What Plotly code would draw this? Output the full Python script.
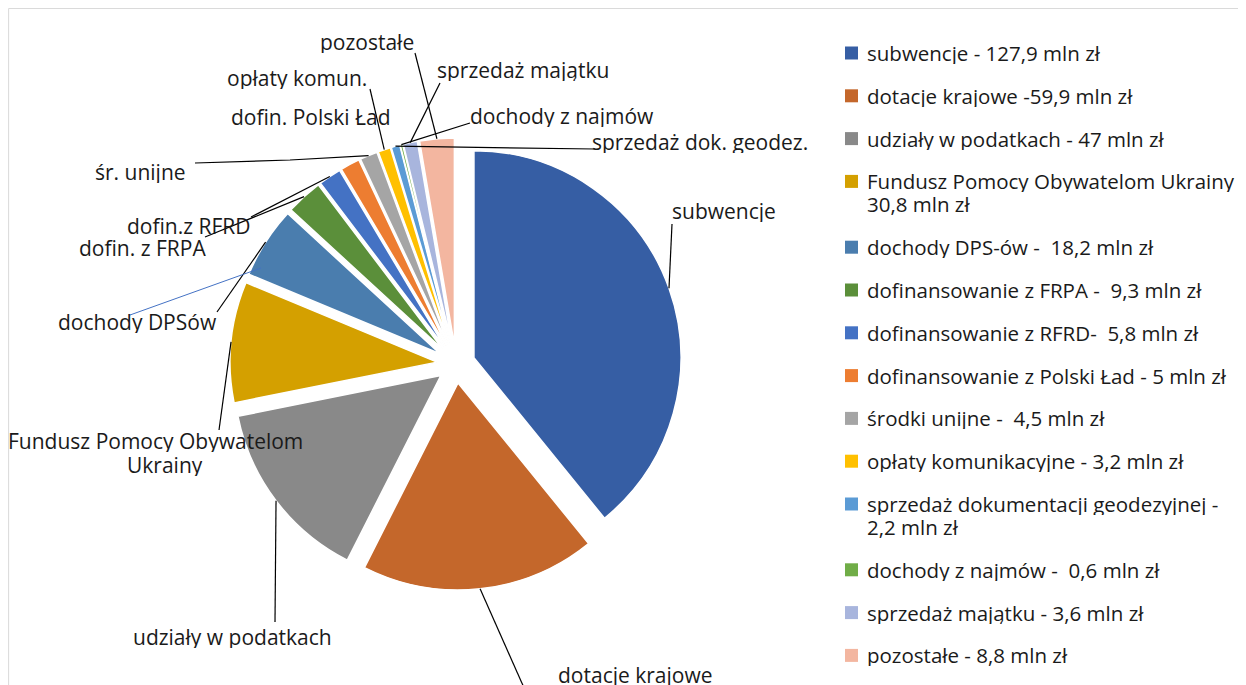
import math
import plotly.graph_objects as go

# page is shown with an 8px body margin; figure fits the remaining viewport
OFF = 8
W, H = 1246 - OFF, 685 - OFF

categories = ["subwencje", "dotacje krajowe", "udziały w podatkach",
              "Fundusz Pomocy Obywatelom Ukrainy", "dochody DPS-ów",
              "dofinansowanie z FRPA", "dofinansowanie z RFRD",
              "dofinansowanie z Polski Ład", "środki unijne",
              "opłaty komunikacyjne", "sprzedaż dokumentacji geodezyjnej",
              "dochody z najmów", "sprzedaż majątku", "pozostałe"]
values = [127.9, 59.9, 47, 30.8, 18.2, 9.3, 5.8, 5, 4.5, 3.2, 2.2, 0.6, 3.6, 8.8]
colors = ["#365EA4", "#C4672B", "#898989", "#D4A000", "#4A7DAE", "#5B8F3A",
          "#4472C4", "#ED7D31", "#A5A5A5", "#FFC000", "#5B9BD5", "#70AD47",
          "#A8B5DD", "#F3B6A0"]
legend_texts = [
    ["subwencje - 127,9 mln zł"],
    ["dotacje krajowe -59,9 mln zł"],
    ["udziały w podatkach - 47 mln zł"],
    ["Fundusz Pomocy Obywatelom Ukrainy", "30,8 mln zł"],
    ["dochody DPS-ów - \u00a018,2 mln zł"],
    ["dofinansowanie z FRPA - \u00a09,3 mln zł"],
    ["dofinansowanie z RFRD- \u00a05,8 mln zł"],
    ["dofinansowanie z Polski Ład - 5 mln zł"],
    ["środki unijne - \u00a04,5 mln zł"],
    ["opłaty komunikacyjne - 3,2 mln zł"],
    ["sprzedaż dokumentacji geodezyjnej -", "2,2 mln zł"],
    ["dochody z najmów - \u00a00,6 mln zł"],
    ["sprzedaż majątku - 3,6 mln zł"],
    ["pozostałe - 8,8 mln zł"],
]
slice_labels = [
    ["subwencje"], ["dotacje krajowe"], ["udziały w podatkach"],
    ["Fundusz Pomocy Obywatelom", "Ukrainy"], ["dochody DPSów"],
    ["dofin. z FRPA"], ["dofin.z RFRD"], ["dofin. Polski Ład"],
    ["śr. unijne"], ["opłaty komun."], ["sprzedaż dok. geodez."],
    ["dochody z najmów"], ["sprzedaż majątku"], ["pozostałe"],
]

# ---- layout / style (page pixels) ----
FONT = "Open Sans"
FS = 21
FS_LEG = 20.5
TXT = "#1a1a1a"
PULL = 0.092
CX, CY, R = 456, 364, 207
box = R * (2 + 2 * PULL)

# label positions (centre of each text line) and leader waypoints (from label side)
label_pos = [
    [(724, 211)], [(635, 675)], [(232, 637)], [(155, 441), (165, 465)],
    [(137, 322)], [(142, 248)], [(189, 226)], [(311, 117)], [(140, 172)],
    [(297, 78)], [(700, 142)], [(562, 116)], [(523, 70)], [(367, 42)],
]
leader_pts = [
    [(672, 224)], [(525, 690)], [(275, 622)], [(219, 430)], [(217, 312)],
    [(205, 237)], [(251, 217)], None, [(195, 163), (290, 160)],
    [(370, 89)], [(595, 149)], [(470, 123)], [(440, 83)], [(415, 53)],
]


def px(x, y):
    return (x - OFF) / W, 1 - (y - OFF) / H


dx0, dy1 = px(CX - box / 2 - 20, CY - box / 2)
dx1, dy0 = px(CX + box / 2 + 20, CY + box / 2)

fig = go.Figure(go.Pie(
    labels=categories, values=values, sort=False, direction="clockwise",
    rotation=0, pull=[PULL] * len(values), textinfo="none", hoverinfo="label+value",
    marker=dict(colors=colors, line=dict(color="white", width=1.5)),
    domain=dict(x=[dx0, dx1], y=[dy0, dy1]),
    showlegend=False,
))

shapes = []
annotations = []

# chart-area border
shapes.append(dict(type="rect", xref="paper", yref="paper",
                   x0=0.0005, x1=1.02, y0=-0.02, y1=0.9993,
                   line=dict(color="#D9D9D9", width=1), fillcolor="rgba(0,0,0,0)",
                   layer="below"))

total = sum(values)
cum = 0.0
for i, v in enumerate(values):
    mid = math.radians(360 * (cum + v / 2) / total)
    cum += v
    tip = (CX + R * (1 + PULL) * math.sin(mid), CY - R * (1 + PULL) * math.cos(mid))
    for (lx, ly), line in zip(label_pos[i], slice_labels[i]):
        ax, ay = px(lx, ly)
        annotations.append(dict(x=ax, y=ay, xref="paper", yref="paper", text=line,
                                showarrow=False, xanchor="center", yanchor="middle",
                                height=22, borderpad=0,
                                font=dict(family=FONT, size=FS, color=TXT)))
    if leader_pts[i]:
        pts = leader_pts[i] + [tip]
        d = "M " + " L ".join(f"{px(x, y)[0]:.5f},{px(x, y)[1]:.5f}" for x, y in pts)
        shapes.append(dict(type="path", xref="paper", yref="paper", path=d,
                           line=dict(color="black", width=1.2)))

# blue thin leader of DPS label
b0, b1 = px(130, 315), px(261, 268)
shapes.append(dict(type="line", xref="paper", yref="paper", x0=b0[0], y0=b0[1],
                   x1=b1[0], y1=b1[1], line=dict(color="#4472C4", width=1)))

# manual legend
y = 53.0
for i, lines in enumerate(legend_texts):
    sx0, sy0 = px(845, y - 6.5)
    sx1, sy1 = px(858, y + 6.5)
    shapes.append(dict(type="rect", xref="paper", yref="paper", x0=sx0, x1=sx1,
                       y0=sy1, y1=sy0, fillcolor=colors[i], line=dict(width=0)))
    for k, line in enumerate(lines):
        tx, ty = px(866, y + 23 * k)
        annotations.append(dict(x=tx, y=ty, xref="paper", yref="paper", text=line,
                                showarrow=False, xanchor="left", yanchor="middle",
                                height=22, borderpad=0,
                                font=dict(family=FONT, size=FS_LEG, color=TXT)))
    y += 42.8 + 23 * (len(lines) - 1)

fig.update_layout(
    width=W, height=H, margin=dict(l=0, r=0, t=0, b=0),
    paper_bgcolor="white", plot_bgcolor="white",
    shapes=shapes, annotations=annotations,
)
fig.write_html("out.html")
